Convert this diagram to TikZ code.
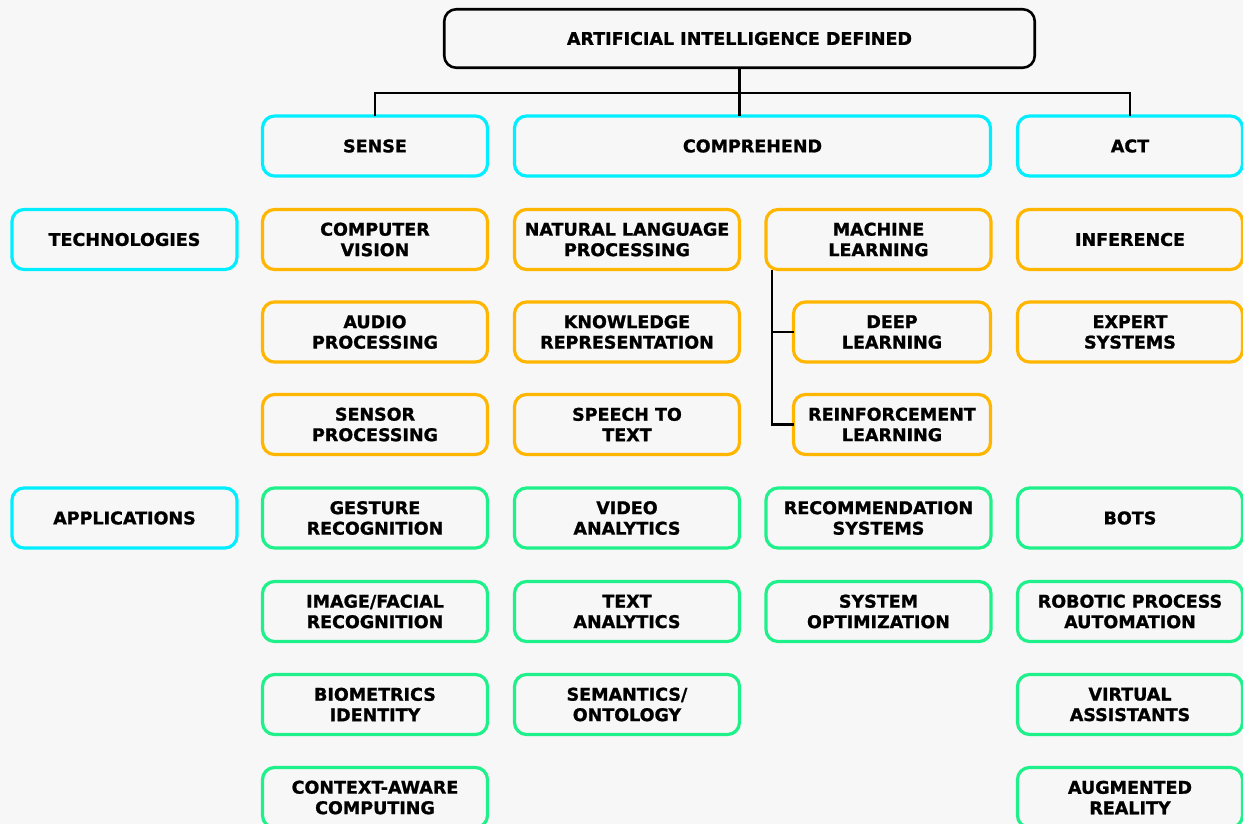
\documentclass[tikz,border=0pt]{standalone}
\usepackage{fontspec}
\newfontfamily\boxfont{DejaVu Sans}[BoldFont={DejaVu Sans Bold}, BoldFeatures={FakeBold=1.2}]
\definecolor{bgc}{HTML}{F7F7F7}
\definecolor{cyanc}{HTML}{00EEFF}
\definecolor{orangec}{HTML}{FFB600}
\definecolor{greenc}{HTML}{1EF08A}
\tikzset{
  base/.style={draw, rounded corners=12pt, inner sep=0pt, outer sep=0pt,
    align=center, minimum width=225pt, minimum height=60pt,
    font=\boxfont\bfseries\fontsize{17.5}{20.5}\selectfont, text=black},
  headbox/.style={base, draw=black, line width=2.6pt},
  catbox/.style={base, draw=cyanc, line width=3.2pt},
  techbox/.style={base, draw=orangec, line width=3.2pt},
  appbox/.style={base, draw=greenc, line width=3.2pt},
  conn/.style={draw=black, line width=2.8pt},
}
\begin{document}
\begin{tikzpicture}[x=1pt,y=-1pt]
\fill[bgc] (0,0) rectangle (1243,824);
\useasboundingbox (0,0) rectangle (1243,824);
\clip (0,0) rectangle (1243,824);

% title
\node[headbox, minimum width=590.5pt, minimum height=58.5pt] (top) at (739.5,38.5) {ARTIFICIAL INTELLIGENCE DEFINED};

% header row
\node[catbox] (sense) at (375,146) {SENSE};
\node[catbox, minimum width=476pt] (comp) at (752.5,146) {COMPREHEND};
\node[catbox] (act) at (1130,146) {ACT};

% side labels
\node[catbox] (tech) at (124.5,239.5) {TECHNOLOGIES};
\node[catbox] (apps) at (124.5,518) {APPLICATIONS};

% technologies
\node[techbox] (cv) at (375,239.5) {COMPUTER\\VISION};
\node[techbox] (audio) at (375,332) {AUDIO\\PROCESSING};
\node[techbox] (sensor) at (375,424.5) {SENSOR\\PROCESSING};
\node[techbox] (nlp) at (627,239.5) {NATURAL LANGUAGE\\PROCESSING};
\node[techbox] (kr) at (627,332) {KNOWLEDGE\\REPRESENTATION};
\node[techbox] (stt) at (627,424.5) {SPEECH TO\\TEXT};
\node[techbox] (ml) at (878.5,239.5) {MACHINE\\LEARNING};
\node[techbox, minimum width=197pt] (dl) at (892,332) {DEEP\\LEARNING};
\node[techbox, minimum width=197pt] (rl) at (892,424.5) {REINFORCEMENT\\LEARNING};
\node[techbox] (inf) at (1130,239.5) {INFERENCE};
\node[techbox] (exp) at (1130,332) {EXPERT\\SYSTEMS};

% applications
\node[appbox] (gest) at (375,518) {GESTURE\\RECOGNITION};
\node[appbox] (img) at (375,611.5) {IMAGE/FACIAL\\RECOGNITION};
\node[appbox] (bio) at (375,704.5) {BIOMETRICS\\IDENTITY};
\node[appbox] (ctx) at (375,797.5) {CONTEXT-AWARE\\COMPUTING};
\node[appbox] (video) at (627,518) {VIDEO\\ANALYTICS};
\node[appbox] (text) at (627,611.5) {TEXT\\ANALYTICS};
\node[appbox] (sem) at (627,704.5) {SEMANTICS/\\ONTOLOGY};
\node[appbox] (rec) at (878.5,518) {RECOMMENDATION\\SYSTEMS};
\node[appbox] (sysopt) at (878.5,611.5) {SYSTEM\\OPTIMIZATION};
\node[appbox] (bots) at (1130,518) {BOTS};
\node[appbox] (rpa) at (1130,611.5) {ROBOTIC PROCESS\\AUTOMATION};
\node[appbox] (va) at (1130,704.5) {VIRTUAL\\ASSISTANTS};
\node[appbox] (ar) at (1130,797.5) {AUGMENTED\\REALITY};

% connectors
\draw[conn] (top.south) -- (top.south |- comp.north);
\draw[conn] (sense.north) -- ++(0,-23) -| (act.north);
\coordinate (mlx) at (772,270);
\draw[conn] (mlx) |- (rl.west);
\draw[conn] (mlx |- dl.west) -- (dl.west);
\end{tikzpicture}
\end{document}
